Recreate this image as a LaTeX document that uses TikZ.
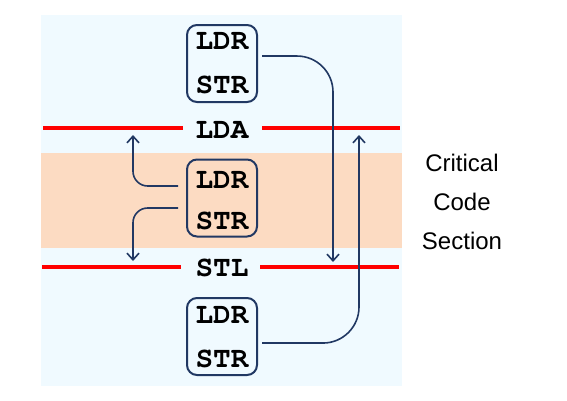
\documentclass[tikz,border=0pt]{standalone}
\usepackage{fontspec}
\setmainfont{Liberation Sans}
\setmonofont{texgyrecursor}[Extension=.otf, UprightFont=*-regular, BoldFont=*-bold]
\usetikzlibrary{arrows.meta}
\usetikzlibrary{positioning}
\definecolor{mnavy}{rgb}{0.13, 0.22, 0.39}
\definecolor{mice}{rgb}{0.94, 0.98, 1}
\definecolor{mpeach}{rgb}{0.99, 0.86, 0.76}
\tikzset{instr/.style = {font=\fontsize{22}{22}\selectfont\ttfamily\bfseries, inner sep = 0}}
\tikzset{blockbox/.style = {draw=mnavy, line width=1.5pt, rounded corners=7.5pt,
                            minimum width=52.5pt, minimum height=57.75pt}}
\tikzset{flow/.style = {draw=mnavy, line width=1.2pt, -{Straight Barb[length=5pt,width=9pt]}}}
\tikzset{fence/.style = {red, line width=2.8pt}}

\begin{document}
\begin{tikzpicture}[x=0.75pt, y=-0.75pt]
    \useasboundingbox (0, 0) rectangle (567, 400);
    \fill [mice] (41, 15) rectangle (402, 386);
    \fill [mpeach] (41, 153) rectangle (402, 248);

    % barriers
    \node [instr] (lda) at (222, 130) {LDA};
    \node [instr] (stl) at (222, 268) {STL};
    \draw [fence] (43, 128) -- (183, 128);
    \draw [fence] (262, 128) -- (400, 128);
    \draw [fence] (42, 267) -- (181, 267);
    \draw [fence] (260, 267) -- (399, 267);

    % instruction blocks
    \node [blockbox] (blockTop) at (222, 63.5) {};
    \node [instr] (ldrTop) at (222, 41) {LDR};
    \node [instr] (strTop) at (222, 85) {STR};

    \node [blockbox] (blockMid) at (222, 198) {};
    \node [instr] (ldrMid) at (222, 180) {LDR};
    \node [instr] (strMid) at (222, 221) {STR};

    \node [blockbox] (blockBot) at (222, 336.5) {};
    \node [instr] (ldrBot) at (222, 315) {LDR};
    \node [instr] (strBot) at (222, 359) {STR};

    \node [align=center, font=\fontsize{18}{29}\selectfont] (critical) at (462, 202) {Critical\\Code\\Section};

    % reorderings
    \coordinate (ldaLeft) at (133, 135);
    \coordinate (ldaRight) at (359, 135);
    \coordinate (stlLeft) at (133, 261);
    \coordinate (stlRight) at (333, 262);

    \draw [flow, rounded corners=27pt] ([shift={(3pt, 5.6pt)}]blockTop.east) -| (stlRight);
    \draw [flow, rounded corners=27pt] ([shift={(3pt, -4.9pt)}]blockBot.east) -| (ldaRight);
    \draw [flow, rounded corners=11pt] ([shift={(-6pt, 9pt)}]blockMid.west) -| (ldaLeft);
    \draw [flow, rounded corners=11pt] ([shift={(-6pt, -7.5pt)}]blockMid.west) -| (stlLeft);
\end{tikzpicture}
\end{document}
